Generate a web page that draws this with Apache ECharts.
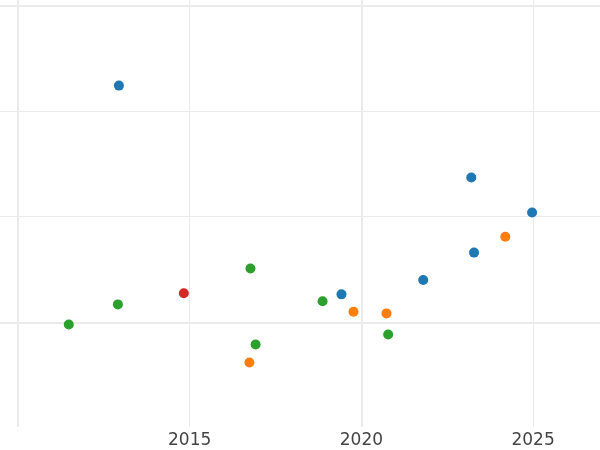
<!DOCTYPE html>
<html>
<head>
<meta charset="utf-8">
<script src="https://cdn.jsdelivr.net/npm/echarts@6/dist/echarts.min.js"></script>
<style>html,body{margin:0;padding:0;background:#fff}#c{width:600px;height:450px}</style>
</head>
<body>
<div id="c"></div>
<script>
// Data: [year, value]
const blueSeries = [[2012.94, 2.24], [2023.20, 1.37], [2024.97, 1.04], [2023.28, 0.66], [2021.80, 0.40], [2019.42, 0.265]];
const orangeSeries = [[2024.19, 0.81], [2019.77, 0.10], [2020.73, 0.085], [2016.74, -0.38]];
const greenSeries = [[2011.48, -0.02], [2012.91, 0.17], [2016.77, 0.51], [2018.87, 0.20], [2016.92, -0.21], [2020.78, -0.115]];
const redSeries = [[2014.83, 0.275]];
const xTickLabels = [2015, 2020, 2025];
const thickXLines = [2010, 2020];
const thickYLines = [0, 3];

const gridColor = '#ebebeb';
const chart = echarts.init(document.getElementById('c'), null, {renderer: 'canvas'});

function pts(arr, color) {
  return {
    type: 'scatter',
    data: arr,
    symbolSize: 10,
    itemStyle: {color: color, opacity: 1},
    z: 10
  };
}

chart.setOption({
  animation: false,
  backgroundColor: '#ffffff',
  grid: {left: 0, right: 0, top: 0, bottom: 23, containLabel: false},
  xAxis: {
    type: 'value',
    min: 2009.477, max: 2026.948, minInterval: 5, maxInterval: 5,
    axisLine: {show: false}, axisTick: {show: false},
    splitLine: {show: true, showMinLine: false, showMaxLine: false, lineStyle: {color: gridColor, width: 1}},
    axisLabel: {
      margin: 5,
      fontFamily: 'DejaVu Sans', fontSize: 17, color: '#444',
      showMinLabel: false, showMaxLabel: false,
      formatter: v => xTickLabels.indexOf(Math.round(v * 1000) / 1000) >= 0 ? String(v) : ''
    }
  },
  yAxis: {
    type: 'value',
    min: -0.99, max: 3.05, minInterval: 1, maxInterval: 1,
    axisLine: {show: false}, axisTick: {show: false}, axisLabel: {show: false},
    splitLine: {show: true, showMinLine: false, showMaxLine: false, lineStyle: {color: gridColor, width: 1}}
  },
  series: [
    {
      type: 'scatter', data: [], z: 1, silent: true,
      markLine: {
        z: 1, silent: true, symbol: 'none', label: {show: false}, animation: false,
        lineStyle: {color: gridColor, width: 2, type: 'solid'},
        data: thickXLines.map(v => ({xAxis: v})).concat(thickYLines.map(v => ({yAxis: v})))
      }
    },
    pts(blueSeries, '#1f77b4'),
    pts(orangeSeries, '#ff7f0e'),
    pts(greenSeries, '#2ca02c'),
    pts(redSeries, '#d62728')
  ]
});
</script>
</body>
</html>
